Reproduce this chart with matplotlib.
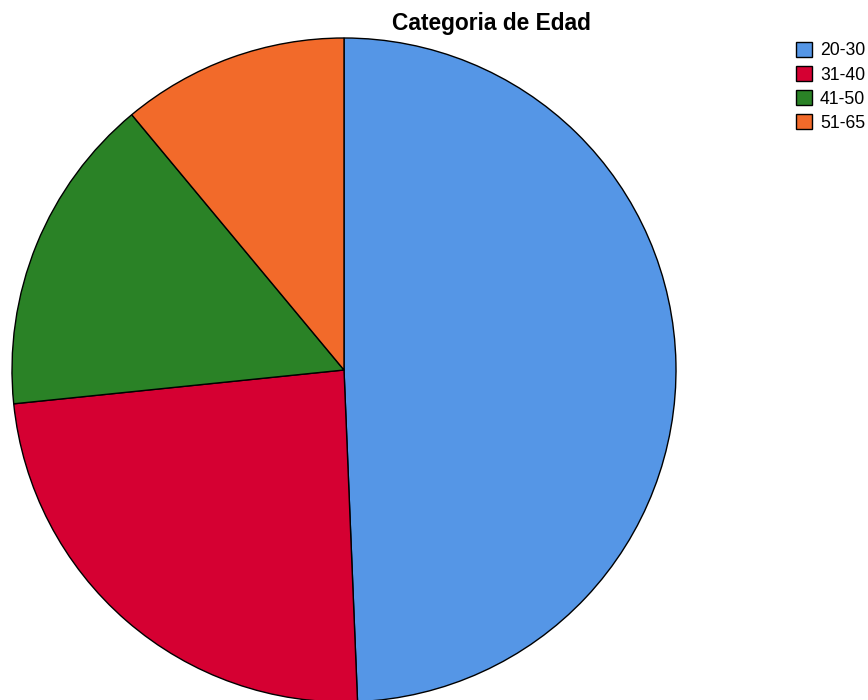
import matplotlib
matplotlib.use("Agg")
import matplotlib.pyplot as plt

# age groups and counts
labels = ["20-30", "31-40", "41-50", "51-65"]
counts = [76, 37, 24, 17]
colors = ["#5596E6", "#D50032", "#2A8226", "#F26A2A"]

plt.rcParams["font.family"] = ["Liberation Sans", "DejaVu Sans"]

fig = plt.figure(figsize=(8.68, 7.0), dpi=100)

# pie centre ~ (344, 370) px, radius ~332 px
cx, cy, r = 344, 370, 332
W, H = 868, 700
ax = fig.add_axes([(cx - r) / W, (H - cy - r) / H, 2 * r / W, 2 * r / H])

wedges, _ = ax.pie(counts, colors=colors, startangle=90, counterclock=False,
                   radius=1.0, wedgeprops=dict(edgecolor="black", linewidth=1.0))
ax.set_xlim(-1, 1)
ax.set_ylim(-1, 1)
ax.set_aspect("equal")
ax.axis("off")

fig.text(491 / W, 1 - 30 / H, "Categoria de Edad", ha="center", va="baseline",
         fontsize=16.4, fontweight="bold")

fig.legend(wedges, labels, loc="upper left", bbox_to_anchor=(796 / W, 1 - 42 / H),
           frameon=False, fontsize=12.7, handlelength=0.9, handleheight=0.9,
           handletextpad=0.45, labelspacing=0.38, borderpad=0, borderaxespad=0)

fig.savefig("out.png", dpi=100)
